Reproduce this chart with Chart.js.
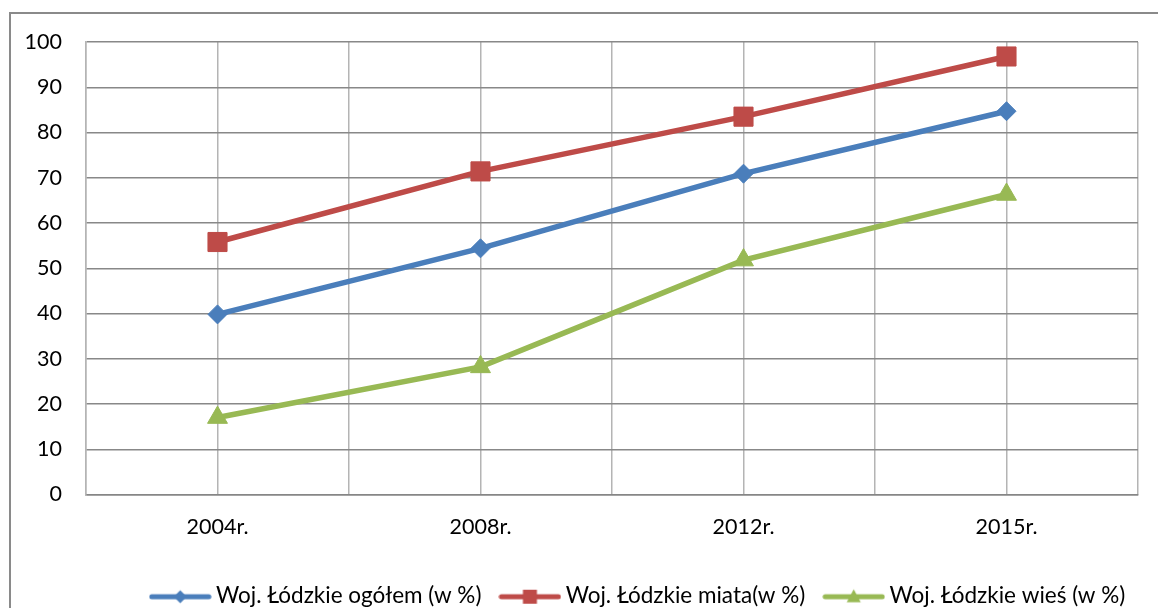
<!DOCTYPE html>
<html>
<head>
<meta charset="utf-8">
<script src="https://cdn.jsdelivr.net/npm/chart.js@4/dist/chart.umd.min.js"></script>
<style>
  html, body { margin: 0; padding: 0; background: #fff; }
  #wrap { position: relative; width: 1158px; height: 608px; overflow: hidden; }
  #frame { position: absolute; left: 9px; top: 12px; width: 1300px; height: 700px;
           border-left: 2px solid #8a8a8a; border-top: 2px solid #8a8a8a; pointer-events: none; }
  canvas { position: absolute; left: 0; top: 0; }
</style>
</head>
<body>
<div id="wrap">
  <div id="frame"></div>
  <canvas id="chart" width="1158" height="608"></canvas>
</div>
<script>
const lata = ["2004r.", "2008r.", "2012r.", "2015r."];
const ogolem = [39.8, 54.4, 70.9, 84.7];
const miasta = [55.8, 71.4, 83.5, 96.8];
const wies = [17.0, 28.2, 51.8, 66.3];
const yTicks = [0, 10, 20, 30, 40, 50, 60, 70, 80, 90, 100];

const FONT = "Lato, 'Open Sans', sans-serif";

// small picture for the legend: line with marker in the middle
function legendSymbol(color, style) {
  const c = document.createElement("canvas");
  c.width = 63; c.height = 24;
  const g = c.getContext("2d");
  const y = 13;
  g.strokeStyle = color;
  g.lineWidth = 5;
  g.lineCap = "round";
  g.beginPath(); g.moveTo(3, y); g.lineTo(60, y); g.stroke();
  g.fillStyle = color;
  const cx = 31.5;
  g.beginPath();
  if (style === "rectRot") {
    g.moveTo(cx - 6.5, y); g.lineTo(cx, y - 6.5); g.lineTo(cx + 6.5, y); g.lineTo(cx, y + 6.5);
  } else if (style === "rect") {
    g.rect(cx - 7, y - 7, 14, 14);
  } else {
    g.moveTo(cx, y - 7.5); g.lineTo(cx + 7, y + 5.5); g.lineTo(cx - 7, y + 5.5);
  }
  g.closePath(); g.fill();
  return c;
}

function series(label, values, color, style, radius) {
  return {
    label,
    data: values.map((v, i) => ({ x: i + 1, y: v })),
    borderColor: color,
    backgroundColor: color,
    borderWidth: 5.5,
    pointStyle: style,
    pointRadius: radius,
    pointHoverRadius: radius,
    pointBorderWidth: 1,
    pointBorderColor: color,
    pointBackgroundColor: color,
    tension: 0
  };
}

const datasets = [
  series("Woj. Łódzkie ogółem (w %)", ogolem, "#4a7ebb", "rectRot", 9.5),
  series("Woj. Łódzkie miata(w %)", miasta, "#be4b48", "rect", 13.5),
  series("Woj. Łódzkie wieś (w %)", wies, "#98b954", "triangle", 11.5)
];

// move the legend a bit to the right, as in the original
const shiftLegend = {
  id: "shiftLegend",
  afterLayout(chart) {
    chart.legend.left += 66;
    chart.legend.right += 66;
  }
};

new Chart(document.getElementById("chart"), {
  type: "line",
  data: { datasets },
  plugins: [shiftLegend],
  options: {
    responsive: false,
    animation: false,
    layout: { padding: { left: 0, top: 42, right: 9, bottom: -9 } },
    plugins: {
      tooltip: { enabled: false },
      legend: {
        position: "bottom",
        labels: {
          usePointStyle: true,
          pointStyleWidth: 49,
          padding: 24,
          color: "#000",
          font: { family: FONT, size: 22.5 },
          generateLabels(chart) {
            return chart.data.datasets.map((ds, i) => ({
              text: ds.label,
              pointStyle: legendSymbol(ds.borderColor, ds.pointStyle),
              fillStyle: ds.borderColor,
              strokeStyle: ds.borderColor,
              lineWidth: 0,
              hidden: false,
              datasetIndex: i,
              fontColor: "#000"
            }));
          }
        }
      }
    },
    scales: {
      x: {
        type: "linear",
        min: 0.5,
        max: 4.5,
        afterBuildTicks(scale) {
          const t = [];
          for (let v = 0.5; v <= 4.5; v += 0.5) t.push({ value: v });
          scale.ticks = t;
        },
        afterFit(scale) { scale.height = 66; },
        ticks: {
          autoSkip: false,
          maxRotation: 0,
          padding: 20,
          color: "#000",
          font: { family: FONT, size: 21.5 },
          callback: v => Number.isInteger(v) ? lata[v - 1] : ""
        },
        grid: { color: "#b4b4b4", lineWidth: 1.5, drawTicks: false },
        border: { color: "#868686", width: 1.5 }
      },
      y: {
        min: 0,
        max: 100,
        afterBuildTicks(scale) { scale.ticks = yTicks.map(v => ({ value: v })); },
        afterFit(scale) { scale.width = 86; },
        ticks: {
          padding: 24,
          color: "#000",
          font: { family: FONT, size: 21.5 }
        },
        grid: { color: "#888888", lineWidth: 1.5, drawTicks: false },
        border: { color: "#b4b4b4", width: 1.5 }
      }
    }
  }
});
</script>
</body>
</html>
